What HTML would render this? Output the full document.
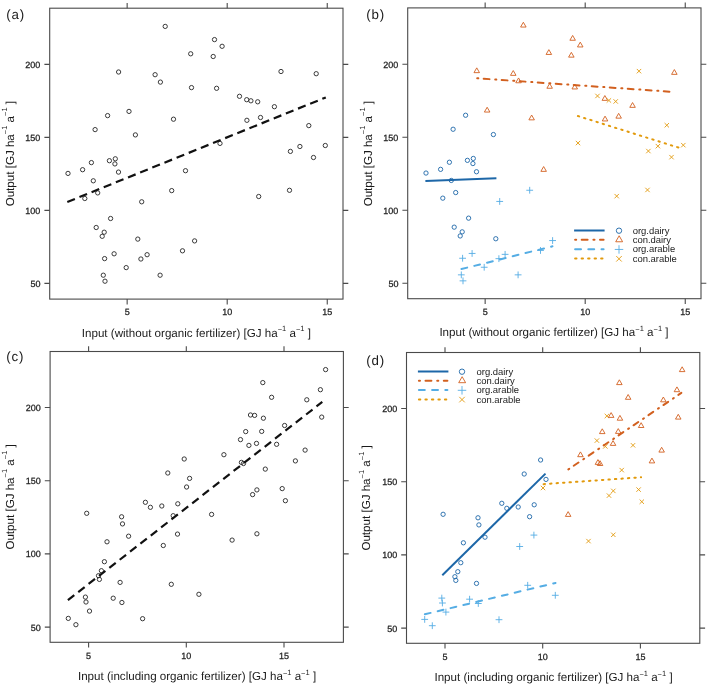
<!DOCTYPE html>
<html><head><meta charset="utf-8"><title>plot</title>
<style>
html,body{margin:0;padding:0;background:#fff;}
body{width:708px;height:695px;overflow:hidden;}
svg{display:block;will-change:transform;}
text{font-family:"Liberation Sans",sans-serif;fill:#222222;text-rendering:geometricPrecision;}
.tk{font-size:9px;fill:#222;stroke:#222;stroke-width:0.25px;}
.ti{font-size:11.6px;fill:#1a1a1a;}
.sup{font-size:7.5px;}
.pl{font-size:13.3px;letter-spacing:0.9px;fill:#1a1a1a;}
.lg{font-size:9.45px;fill:#222;}
</style></head>
<body>
<svg width="708" height="695" viewBox="0 0 708 695">
<rect width="708" height="695" fill="#fff"/>
<rect x="49.70" y="8.20" width="293.30" height="290.90" fill="none" stroke="#4a4a4a" stroke-width="1.1"/>
<path d="M127.15,8.20v-5.3M127.15,299.10v5.3M227.20,8.20v-5.3M227.20,299.10v5.3M327.25,8.20v-5.3M327.25,299.10v5.3M49.70,64.40h-5.3M343.00,64.40h5.3M49.70,137.40h-5.3M343.00,137.40h5.3M49.70,210.40h-5.3M343.00,210.40h5.3M49.70,283.40h-5.3M343.00,283.40h5.3" stroke="#4a4a4a" stroke-width="1.1" fill="none"/>
<text x="127.15" y="315.30" text-anchor="middle" class="tk">5</text>
<text x="227.20" y="315.30" text-anchor="middle" class="tk">10</text>
<text x="327.25" y="315.30" text-anchor="middle" class="tk">15</text>
<text x="40.40" y="67.80" text-anchor="end" class="tk">200</text>
<text x="40.40" y="140.80" text-anchor="end" class="tk">150</text>
<text x="40.40" y="213.80" text-anchor="end" class="tk">100</text>
<text x="40.40" y="286.80" text-anchor="end" class="tk">50</text>
<rect x="407.70" y="7.90" width="293.30" height="290.80" fill="none" stroke="#4a4a4a" stroke-width="1.1"/>
<path d="M485.15,7.90v-5.3M485.15,298.70v5.3M585.20,7.90v-5.3M585.20,298.70v5.3M685.25,7.90v-5.3M685.25,298.70v5.3M407.70,64.30h-5.3M701.00,64.30h5.3M407.70,137.30h-5.3M701.00,137.30h5.3M407.70,210.30h-5.3M701.00,210.30h5.3M407.70,283.30h-5.3M701.00,283.30h5.3" stroke="#4a4a4a" stroke-width="1.1" fill="none"/>
<text x="485.15" y="314.90" text-anchor="middle" class="tk">5</text>
<text x="585.20" y="314.90" text-anchor="middle" class="tk">10</text>
<text x="685.25" y="314.90" text-anchor="middle" class="tk">15</text>
<text x="398.40" y="67.70" text-anchor="end" class="tk">200</text>
<text x="398.40" y="140.70" text-anchor="end" class="tk">150</text>
<text x="398.40" y="213.70" text-anchor="end" class="tk">100</text>
<text x="398.40" y="286.70" text-anchor="end" class="tk">50</text>
<rect x="50.10" y="351.50" width="293.30" height="290.80" fill="none" stroke="#4a4a4a" stroke-width="1.1"/>
<path d="M88.60,351.50v-5.3M88.60,642.30v5.3M186.30,351.50v-5.3M186.30,642.30v5.3M284.00,351.50v-5.3M284.00,642.30v5.3M50.10,407.50h-5.3M343.40,407.50h5.3M50.10,480.70h-5.3M343.40,480.70h5.3M50.10,553.90h-5.3M343.40,553.90h5.3M50.10,627.10h-5.3M343.40,627.10h5.3" stroke="#4a4a4a" stroke-width="1.1" fill="none"/>
<text x="88.60" y="658.50" text-anchor="middle" class="tk">5</text>
<text x="186.30" y="658.50" text-anchor="middle" class="tk">10</text>
<text x="284.00" y="658.50" text-anchor="middle" class="tk">15</text>
<text x="40.80" y="410.90" text-anchor="end" class="tk">200</text>
<text x="40.80" y="484.10" text-anchor="end" class="tk">150</text>
<text x="40.80" y="557.30" text-anchor="end" class="tk">100</text>
<text x="40.80" y="630.50" text-anchor="end" class="tk">50</text>
<rect x="406.50" y="352.50" width="293.30" height="290.80" fill="none" stroke="#4a4a4a" stroke-width="1.1"/>
<path d="M445.00,352.50v-5.3M445.00,643.30v5.3M542.70,352.50v-5.3M542.70,643.30v5.3M640.40,352.50v-5.3M640.40,643.30v5.3M406.50,408.50h-5.3M699.80,408.50h5.3M406.50,481.70h-5.3M699.80,481.70h5.3M406.50,554.90h-5.3M699.80,554.90h5.3M406.50,628.10h-5.3M699.80,628.10h5.3" stroke="#4a4a4a" stroke-width="1.1" fill="none"/>
<text x="445.00" y="659.50" text-anchor="middle" class="tk">5</text>
<text x="542.70" y="659.50" text-anchor="middle" class="tk">10</text>
<text x="640.40" y="659.50" text-anchor="middle" class="tk">15</text>
<text x="397.20" y="411.90" text-anchor="end" class="tk">200</text>
<text x="397.20" y="485.10" text-anchor="end" class="tk">150</text>
<text x="397.20" y="558.30" text-anchor="end" class="tk">100</text>
<text x="397.20" y="631.50" text-anchor="end" class="tk">50</text>
<text x="196.35" y="336.80" text-anchor="middle" class="ti">Input (without organic fertilizer) [GJ ha<tspan class="sup" dy="-4.60">−</tspan><tspan class="sup" dy="-0.90">1</tspan><tspan dy="5.50"> a</tspan><tspan class="sup" dy="-4.60">−</tspan><tspan class="sup" dy="-0.90">1</tspan><tspan dy="5.50"> ]</tspan></text>
<text x="553.95" y="336.30" text-anchor="middle" class="ti">Input (without organic fertilizer) [GJ ha<tspan class="sup" dy="-4.60">−</tspan><tspan class="sup" dy="-0.90">1</tspan><tspan dy="5.50"> a</tspan><tspan class="sup" dy="-4.60">−</tspan><tspan class="sup" dy="-0.90">1</tspan><tspan dy="5.50"> ]</tspan></text>
<text x="197.05" y="680.40" text-anchor="middle" class="ti">Input (including organic fertilizer) [GJ ha<tspan class="sup" dy="-4.60">−</tspan><tspan class="sup" dy="-0.90">1</tspan><tspan dy="5.50"> a</tspan><tspan class="sup" dy="-4.60">−</tspan><tspan class="sup" dy="-0.90">1</tspan><tspan dy="5.50"> ]</tspan></text>
<text x="553.55" y="681.10" text-anchor="middle" class="ti">Input (including organic fertilizer) [GJ ha<tspan class="sup" dy="-4.60">−</tspan><tspan class="sup" dy="-0.90">1</tspan><tspan dy="5.50"> a</tspan><tspan class="sup" dy="-4.60">−</tspan><tspan class="sup" dy="-0.90">1</tspan><tspan dy="5.50"> ]</tspan></text>
<text transform="translate(13.50,153.65) rotate(-90)" text-anchor="middle" class="ti">Output [GJ ha<tspan class="sup" dy="-5.30">−</tspan><tspan class="sup" dy="-0.90">1</tspan><tspan dy="6.20"> a</tspan><tspan class="sup" dy="-5.30">−</tspan><tspan class="sup" dy="-0.90">1</tspan><tspan dy="6.20"> ]</tspan></text>
<text transform="translate(371.50,153.65) rotate(-90)" text-anchor="middle" class="ti">Output [GJ ha<tspan class="sup" dy="-5.30">−</tspan><tspan class="sup" dy="-0.90">1</tspan><tspan dy="6.20"> a</tspan><tspan class="sup" dy="-5.30">−</tspan><tspan class="sup" dy="-0.90">1</tspan><tspan dy="6.20"> ]</tspan></text>
<text transform="translate(13.50,496.90) rotate(-90)" text-anchor="middle" class="ti">Output [GJ ha<tspan class="sup" dy="-5.30">−</tspan><tspan class="sup" dy="-0.90">1</tspan><tspan dy="6.20"> a</tspan><tspan class="sup" dy="-5.30">−</tspan><tspan class="sup" dy="-0.90">1</tspan><tspan dy="6.20"> ]</tspan></text>
<text transform="translate(369.90,497.90) rotate(-90)" text-anchor="middle" class="ti">Output [GJ ha<tspan class="sup" dy="-5.30">−</tspan><tspan class="sup" dy="-0.90">1</tspan><tspan dy="6.20"> a</tspan><tspan class="sup" dy="-5.30">−</tspan><tspan class="sup" dy="-0.90">1</tspan><tspan dy="6.20"> ]</tspan></text>
<text x="6.2" y="19.1" class="pl">(a)</text>
<text x="366.2" y="19.1" class="pl">(b)</text>
<text x="6.2" y="361.0" class="pl">(c)</text>
<text x="366.2" y="365.0" class="pl">(d)</text>
<circle cx="165.20" cy="26.40" r="2.15" fill="none" stroke="#262626" stroke-width="0.9"/>
<circle cx="190.70" cy="53.80" r="2.15" fill="none" stroke="#262626" stroke-width="0.9"/>
<circle cx="118.60" cy="72.00" r="2.15" fill="none" stroke="#262626" stroke-width="0.9"/>
<circle cx="155.10" cy="74.70" r="2.15" fill="none" stroke="#262626" stroke-width="0.9"/>
<circle cx="160.40" cy="82.10" r="2.15" fill="none" stroke="#262626" stroke-width="0.9"/>
<circle cx="191.50" cy="87.60" r="2.15" fill="none" stroke="#262626" stroke-width="0.9"/>
<circle cx="129.00" cy="111.40" r="2.15" fill="none" stroke="#262626" stroke-width="0.9"/>
<circle cx="107.60" cy="115.60" r="2.15" fill="none" stroke="#262626" stroke-width="0.9"/>
<circle cx="173.50" cy="119.20" r="2.15" fill="none" stroke="#262626" stroke-width="0.9"/>
<circle cx="95.10" cy="129.60" r="2.15" fill="none" stroke="#262626" stroke-width="0.9"/>
<circle cx="135.40" cy="134.90" r="2.15" fill="none" stroke="#262626" stroke-width="0.9"/>
<circle cx="214.50" cy="39.60" r="2.15" fill="none" stroke="#262626" stroke-width="0.9"/>
<circle cx="222.10" cy="46.30" r="2.15" fill="none" stroke="#262626" stroke-width="0.9"/>
<circle cx="213.20" cy="56.50" r="2.15" fill="none" stroke="#262626" stroke-width="0.9"/>
<circle cx="281.00" cy="71.50" r="2.15" fill="none" stroke="#262626" stroke-width="0.9"/>
<circle cx="316.20" cy="73.70" r="2.15" fill="none" stroke="#262626" stroke-width="0.9"/>
<circle cx="216.60" cy="88.30" r="2.15" fill="none" stroke="#262626" stroke-width="0.9"/>
<circle cx="239.50" cy="96.30" r="2.15" fill="none" stroke="#262626" stroke-width="0.9"/>
<circle cx="246.70" cy="99.70" r="2.15" fill="none" stroke="#262626" stroke-width="0.9"/>
<circle cx="250.90" cy="100.80" r="2.15" fill="none" stroke="#262626" stroke-width="0.9"/>
<circle cx="257.70" cy="101.80" r="2.15" fill="none" stroke="#262626" stroke-width="0.9"/>
<circle cx="274.40" cy="106.70" r="2.15" fill="none" stroke="#262626" stroke-width="0.9"/>
<circle cx="246.90" cy="120.30" r="2.15" fill="none" stroke="#262626" stroke-width="0.9"/>
<circle cx="260.50" cy="117.50" r="2.15" fill="none" stroke="#262626" stroke-width="0.9"/>
<circle cx="308.80" cy="125.60" r="2.15" fill="none" stroke="#262626" stroke-width="0.9"/>
<circle cx="220.00" cy="143.40" r="2.15" fill="none" stroke="#262626" stroke-width="0.9"/>
<circle cx="299.90" cy="146.50" r="2.15" fill="none" stroke="#262626" stroke-width="0.9"/>
<circle cx="325.30" cy="145.50" r="2.15" fill="none" stroke="#262626" stroke-width="0.9"/>
<circle cx="68.00" cy="173.40" r="2.15" fill="none" stroke="#262626" stroke-width="0.9"/>
<circle cx="82.60" cy="169.70" r="2.15" fill="none" stroke="#262626" stroke-width="0.9"/>
<circle cx="91.40" cy="162.60" r="2.15" fill="none" stroke="#262626" stroke-width="0.9"/>
<circle cx="109.40" cy="160.70" r="2.15" fill="none" stroke="#262626" stroke-width="0.9"/>
<circle cx="115.30" cy="158.80" r="2.15" fill="none" stroke="#262626" stroke-width="0.9"/>
<circle cx="114.90" cy="163.90" r="2.15" fill="none" stroke="#262626" stroke-width="0.9"/>
<circle cx="118.50" cy="172.10" r="2.15" fill="none" stroke="#262626" stroke-width="0.9"/>
<circle cx="93.30" cy="180.80" r="2.15" fill="none" stroke="#262626" stroke-width="0.9"/>
<circle cx="97.70" cy="192.90" r="2.15" fill="none" stroke="#262626" stroke-width="0.9"/>
<circle cx="84.80" cy="198.50" r="2.15" fill="none" stroke="#262626" stroke-width="0.9"/>
<circle cx="185.50" cy="170.70" r="2.15" fill="none" stroke="#262626" stroke-width="0.9"/>
<circle cx="171.70" cy="190.60" r="2.15" fill="none" stroke="#262626" stroke-width="0.9"/>
<circle cx="141.70" cy="201.80" r="2.15" fill="none" stroke="#262626" stroke-width="0.9"/>
<circle cx="110.60" cy="218.50" r="2.15" fill="none" stroke="#262626" stroke-width="0.9"/>
<circle cx="96.20" cy="227.50" r="2.15" fill="none" stroke="#262626" stroke-width="0.9"/>
<circle cx="104.20" cy="232.20" r="2.15" fill="none" stroke="#262626" stroke-width="0.9"/>
<circle cx="102.20" cy="236.30" r="2.15" fill="none" stroke="#262626" stroke-width="0.9"/>
<circle cx="137.80" cy="239.10" r="2.15" fill="none" stroke="#262626" stroke-width="0.9"/>
<circle cx="194.60" cy="240.90" r="2.15" fill="none" stroke="#262626" stroke-width="0.9"/>
<circle cx="182.50" cy="250.80" r="2.15" fill="none" stroke="#262626" stroke-width="0.9"/>
<circle cx="114.10" cy="253.80" r="2.15" fill="none" stroke="#262626" stroke-width="0.9"/>
<circle cx="104.60" cy="258.60" r="2.15" fill="none" stroke="#262626" stroke-width="0.9"/>
<circle cx="140.90" cy="259.00" r="2.15" fill="none" stroke="#262626" stroke-width="0.9"/>
<circle cx="147.10" cy="254.70" r="2.15" fill="none" stroke="#262626" stroke-width="0.9"/>
<circle cx="126.20" cy="267.60" r="2.15" fill="none" stroke="#262626" stroke-width="0.9"/>
<circle cx="103.30" cy="275.20" r="2.15" fill="none" stroke="#262626" stroke-width="0.9"/>
<circle cx="105.00" cy="281.20" r="2.15" fill="none" stroke="#262626" stroke-width="0.9"/>
<circle cx="160.10" cy="275.20" r="2.15" fill="none" stroke="#262626" stroke-width="0.9"/>
<circle cx="290.40" cy="151.40" r="2.15" fill="none" stroke="#262626" stroke-width="0.9"/>
<circle cx="313.50" cy="157.50" r="2.15" fill="none" stroke="#262626" stroke-width="0.9"/>
<circle cx="289.50" cy="190.30" r="2.15" fill="none" stroke="#262626" stroke-width="0.9"/>
<circle cx="258.70" cy="196.50" r="2.15" fill="none" stroke="#262626" stroke-width="0.9"/>
<line x1="67.3" y1="202.0" x2="325.8" y2="97.4" stroke="#111" stroke-width="2.2" stroke-dasharray="8.2 4.9"/>
<circle cx="184.20" cy="459.00" r="2.15" fill="none" stroke="#262626" stroke-width="0.9"/>
<circle cx="167.80" cy="473.00" r="2.15" fill="none" stroke="#262626" stroke-width="0.9"/>
<circle cx="189.60" cy="478.40" r="2.15" fill="none" stroke="#262626" stroke-width="0.9"/>
<circle cx="186.60" cy="487.00" r="2.15" fill="none" stroke="#262626" stroke-width="0.9"/>
<circle cx="325.60" cy="369.60" r="2.15" fill="none" stroke="#262626" stroke-width="0.9"/>
<circle cx="262.80" cy="382.60" r="2.15" fill="none" stroke="#262626" stroke-width="0.9"/>
<circle cx="320.40" cy="389.70" r="2.15" fill="none" stroke="#262626" stroke-width="0.9"/>
<circle cx="271.60" cy="397.30" r="2.15" fill="none" stroke="#262626" stroke-width="0.9"/>
<circle cx="306.80" cy="399.80" r="2.15" fill="none" stroke="#262626" stroke-width="0.9"/>
<circle cx="250.50" cy="415.00" r="2.15" fill="none" stroke="#262626" stroke-width="0.9"/>
<circle cx="254.60" cy="415.40" r="2.15" fill="none" stroke="#262626" stroke-width="0.9"/>
<circle cx="263.40" cy="418.20" r="2.15" fill="none" stroke="#262626" stroke-width="0.9"/>
<circle cx="321.70" cy="417.10" r="2.15" fill="none" stroke="#262626" stroke-width="0.9"/>
<circle cx="284.60" cy="425.50" r="2.15" fill="none" stroke="#262626" stroke-width="0.9"/>
<circle cx="245.70" cy="431.60" r="2.15" fill="none" stroke="#262626" stroke-width="0.9"/>
<circle cx="261.70" cy="431.40" r="2.15" fill="none" stroke="#262626" stroke-width="0.9"/>
<circle cx="240.50" cy="439.60" r="2.15" fill="none" stroke="#262626" stroke-width="0.9"/>
<circle cx="248.90" cy="445.40" r="2.15" fill="none" stroke="#262626" stroke-width="0.9"/>
<circle cx="256.50" cy="443.40" r="2.15" fill="none" stroke="#262626" stroke-width="0.9"/>
<circle cx="276.60" cy="444.30" r="2.15" fill="none" stroke="#262626" stroke-width="0.9"/>
<circle cx="305.10" cy="450.10" r="2.15" fill="none" stroke="#262626" stroke-width="0.9"/>
<circle cx="223.90" cy="454.70" r="2.15" fill="none" stroke="#262626" stroke-width="0.9"/>
<circle cx="295.40" cy="460.90" r="2.15" fill="none" stroke="#262626" stroke-width="0.9"/>
<circle cx="241.40" cy="462.40" r="2.15" fill="none" stroke="#262626" stroke-width="0.9"/>
<circle cx="243.50" cy="463.50" r="2.15" fill="none" stroke="#262626" stroke-width="0.9"/>
<circle cx="265.30" cy="469.10" r="2.15" fill="none" stroke="#262626" stroke-width="0.9"/>
<circle cx="256.90" cy="489.90" r="2.15" fill="none" stroke="#262626" stroke-width="0.9"/>
<circle cx="252.60" cy="494.60" r="2.15" fill="none" stroke="#262626" stroke-width="0.9"/>
<circle cx="282.20" cy="488.60" r="2.15" fill="none" stroke="#262626" stroke-width="0.9"/>
<circle cx="285.40" cy="500.70" r="2.15" fill="none" stroke="#262626" stroke-width="0.9"/>
<circle cx="145.40" cy="502.30" r="2.15" fill="none" stroke="#262626" stroke-width="0.9"/>
<circle cx="150.40" cy="507.30" r="2.15" fill="none" stroke="#262626" stroke-width="0.9"/>
<circle cx="161.80" cy="506.00" r="2.15" fill="none" stroke="#262626" stroke-width="0.9"/>
<circle cx="177.80" cy="503.80" r="2.15" fill="none" stroke="#262626" stroke-width="0.9"/>
<circle cx="173.20" cy="515.70" r="2.15" fill="none" stroke="#262626" stroke-width="0.9"/>
<circle cx="86.70" cy="513.30" r="2.15" fill="none" stroke="#262626" stroke-width="0.9"/>
<circle cx="121.60" cy="516.80" r="2.15" fill="none" stroke="#262626" stroke-width="0.9"/>
<circle cx="122.50" cy="523.90" r="2.15" fill="none" stroke="#262626" stroke-width="0.9"/>
<circle cx="128.60" cy="536.20" r="2.15" fill="none" stroke="#262626" stroke-width="0.9"/>
<circle cx="177.50" cy="534.10" r="2.15" fill="none" stroke="#262626" stroke-width="0.9"/>
<circle cx="107.00" cy="541.80" r="2.15" fill="none" stroke="#262626" stroke-width="0.9"/>
<circle cx="163.30" cy="545.50" r="2.15" fill="none" stroke="#262626" stroke-width="0.9"/>
<circle cx="104.40" cy="561.70" r="2.15" fill="none" stroke="#262626" stroke-width="0.9"/>
<circle cx="101.40" cy="570.70" r="2.15" fill="none" stroke="#262626" stroke-width="0.9"/>
<circle cx="98.50" cy="575.70" r="2.15" fill="none" stroke="#262626" stroke-width="0.9"/>
<circle cx="99.40" cy="579.40" r="2.15" fill="none" stroke="#262626" stroke-width="0.9"/>
<circle cx="120.10" cy="582.40" r="2.15" fill="none" stroke="#262626" stroke-width="0.9"/>
<circle cx="171.30" cy="584.30" r="2.15" fill="none" stroke="#262626" stroke-width="0.9"/>
<circle cx="198.90" cy="594.30" r="2.15" fill="none" stroke="#262626" stroke-width="0.9"/>
<circle cx="85.40" cy="597.10" r="2.15" fill="none" stroke="#262626" stroke-width="0.9"/>
<circle cx="86.00" cy="602.00" r="2.15" fill="none" stroke="#262626" stroke-width="0.9"/>
<circle cx="113.20" cy="598.20" r="2.15" fill="none" stroke="#262626" stroke-width="0.9"/>
<circle cx="121.90" cy="602.50" r="2.15" fill="none" stroke="#262626" stroke-width="0.9"/>
<circle cx="89.50" cy="611.10" r="2.15" fill="none" stroke="#262626" stroke-width="0.9"/>
<circle cx="68.30" cy="618.40" r="2.15" fill="none" stroke="#262626" stroke-width="0.9"/>
<circle cx="142.60" cy="618.70" r="2.15" fill="none" stroke="#262626" stroke-width="0.9"/>
<circle cx="75.90" cy="624.70" r="2.15" fill="none" stroke="#262626" stroke-width="0.9"/>
<circle cx="211.60" cy="514.40" r="2.15" fill="none" stroke="#262626" stroke-width="0.9"/>
<circle cx="256.90" cy="533.80" r="2.15" fill="none" stroke="#262626" stroke-width="0.9"/>
<circle cx="232.10" cy="540.10" r="2.15" fill="none" stroke="#262626" stroke-width="0.9"/>
<line x1="67.9" y1="600.1" x2="322.3" y2="401.9" stroke="#111" stroke-width="2.2" stroke-dasharray="8.1 5.03"/>
<path d="M523.35,22.25L526.12,27.05L520.58,27.05Z" fill="none" stroke="#d2601f" stroke-width="0.9" stroke-linejoin="miter"/>
<path d="M548.85,49.65L551.62,54.45L546.08,54.45Z" fill="none" stroke="#d2601f" stroke-width="0.9" stroke-linejoin="miter"/>
<path d="M476.75,67.85L479.52,72.65L473.98,72.65Z" fill="none" stroke="#d2601f" stroke-width="0.9" stroke-linejoin="miter"/>
<path d="M513.25,70.55L516.02,75.35L510.48,75.35Z" fill="none" stroke="#d2601f" stroke-width="0.9" stroke-linejoin="miter"/>
<path d="M518.55,77.95L521.32,82.75L515.78,82.75Z" fill="none" stroke="#d2601f" stroke-width="0.9" stroke-linejoin="miter"/>
<path d="M549.65,83.45L552.42,88.25L546.88,88.25Z" fill="none" stroke="#d2601f" stroke-width="0.9" stroke-linejoin="miter"/>
<path d="M487.15,107.25L489.92,112.05L484.38,112.05Z" fill="none" stroke="#d2601f" stroke-width="0.9" stroke-linejoin="miter"/>
<circle cx="465.60" cy="115.25" r="2.15" fill="none" stroke="#1d67a8" stroke-width="0.9"/>
<path d="M531.65,115.05L534.42,119.85L528.88,119.85Z" fill="none" stroke="#d2601f" stroke-width="0.9" stroke-linejoin="miter"/>
<circle cx="453.10" cy="129.25" r="2.15" fill="none" stroke="#1d67a8" stroke-width="0.9"/>
<circle cx="493.40" cy="134.55" r="2.15" fill="none" stroke="#1d67a8" stroke-width="0.9"/>
<path d="M572.65,35.45L575.42,40.25L569.88,40.25Z" fill="none" stroke="#d2601f" stroke-width="0.9" stroke-linejoin="miter"/>
<path d="M580.25,42.15L583.02,46.95L577.48,46.95Z" fill="none" stroke="#d2601f" stroke-width="0.9" stroke-linejoin="miter"/>
<path d="M571.35,52.35L574.12,57.15L568.58,57.15Z" fill="none" stroke="#d2601f" stroke-width="0.9" stroke-linejoin="miter"/>
<path d="M636.80,68.95L641.20,73.35M636.80,73.35L641.20,68.95" stroke="#e29a0c" stroke-width="0.9" fill="none"/>
<path d="M674.35,69.55L677.12,74.35L671.58,74.35Z" fill="none" stroke="#d2601f" stroke-width="0.9" stroke-linejoin="miter"/>
<path d="M574.75,84.15L577.52,88.95L571.98,88.95Z" fill="none" stroke="#d2601f" stroke-width="0.9" stroke-linejoin="miter"/>
<path d="M595.30,93.75L599.70,98.15M595.30,98.15L599.70,93.75" stroke="#e29a0c" stroke-width="0.9" fill="none"/>
<path d="M604.85,95.55L607.62,100.35L602.08,100.35Z" fill="none" stroke="#d2601f" stroke-width="0.9" stroke-linejoin="miter"/>
<path d="M606.70,98.25L611.10,102.65M606.70,102.65L611.10,98.25" stroke="#e29a0c" stroke-width="0.9" fill="none"/>
<path d="M613.50,99.25L617.90,103.65M613.50,103.65L617.90,99.25" stroke="#e29a0c" stroke-width="0.9" fill="none"/>
<path d="M632.55,102.55L635.32,107.35L629.78,107.35Z" fill="none" stroke="#d2601f" stroke-width="0.9" stroke-linejoin="miter"/>
<path d="M605.05,116.15L607.82,120.95L602.28,120.95Z" fill="none" stroke="#d2601f" stroke-width="0.9" stroke-linejoin="miter"/>
<path d="M618.65,113.35L621.42,118.15L615.88,118.15Z" fill="none" stroke="#d2601f" stroke-width="0.9" stroke-linejoin="miter"/>
<path d="M664.60,123.05L669.00,127.45M664.60,127.45L669.00,123.05" stroke="#e29a0c" stroke-width="0.9" fill="none"/>
<path d="M575.80,140.85L580.20,145.25M575.80,145.25L580.20,140.85" stroke="#e29a0c" stroke-width="0.9" fill="none"/>
<path d="M655.70,143.95L660.10,148.35M655.70,148.35L660.10,143.95" stroke="#e29a0c" stroke-width="0.9" fill="none"/>
<path d="M681.10,142.95L685.50,147.35M681.10,147.35L685.50,142.95" stroke="#e29a0c" stroke-width="0.9" fill="none"/>
<circle cx="426.00" cy="173.05" r="2.15" fill="none" stroke="#1d67a8" stroke-width="0.9"/>
<circle cx="440.60" cy="169.35" r="2.15" fill="none" stroke="#1d67a8" stroke-width="0.9"/>
<circle cx="449.40" cy="162.25" r="2.15" fill="none" stroke="#1d67a8" stroke-width="0.9"/>
<circle cx="467.40" cy="160.35" r="2.15" fill="none" stroke="#1d67a8" stroke-width="0.9"/>
<circle cx="473.30" cy="158.45" r="2.15" fill="none" stroke="#1d67a8" stroke-width="0.9"/>
<circle cx="472.90" cy="163.55" r="2.15" fill="none" stroke="#1d67a8" stroke-width="0.9"/>
<circle cx="476.50" cy="171.75" r="2.15" fill="none" stroke="#1d67a8" stroke-width="0.9"/>
<circle cx="451.30" cy="180.45" r="2.15" fill="none" stroke="#1d67a8" stroke-width="0.9"/>
<circle cx="455.70" cy="192.55" r="2.15" fill="none" stroke="#1d67a8" stroke-width="0.9"/>
<circle cx="442.80" cy="198.15" r="2.15" fill="none" stroke="#1d67a8" stroke-width="0.9"/>
<path d="M543.65,166.55L546.42,171.35L540.88,171.35Z" fill="none" stroke="#d2601f" stroke-width="0.9" stroke-linejoin="miter"/>
<path d="M526.30,190.25H533.10M529.70,186.85V193.65" stroke="#55ade4" stroke-width="0.9" fill="none"/>
<path d="M496.30,201.45H503.10M499.70,198.05V204.85" stroke="#55ade4" stroke-width="0.9" fill="none"/>
<circle cx="468.60" cy="218.15" r="2.15" fill="none" stroke="#1d67a8" stroke-width="0.9"/>
<circle cx="454.20" cy="227.15" r="2.15" fill="none" stroke="#1d67a8" stroke-width="0.9"/>
<circle cx="462.20" cy="231.85" r="2.15" fill="none" stroke="#1d67a8" stroke-width="0.9"/>
<circle cx="460.20" cy="235.95" r="2.15" fill="none" stroke="#1d67a8" stroke-width="0.9"/>
<circle cx="495.80" cy="238.75" r="2.15" fill="none" stroke="#1d67a8" stroke-width="0.9"/>
<path d="M549.20,240.55H556.00M552.60,237.15V243.95" stroke="#55ade4" stroke-width="0.9" fill="none"/>
<path d="M537.10,250.45H543.90M540.50,247.05V253.85" stroke="#55ade4" stroke-width="0.9" fill="none"/>
<path d="M468.70,253.45H475.50M472.10,250.05V256.85" stroke="#55ade4" stroke-width="0.9" fill="none"/>
<path d="M459.20,258.25H466.00M462.60,254.85V261.65" stroke="#55ade4" stroke-width="0.9" fill="none"/>
<path d="M495.50,258.65H502.30M498.90,255.25V262.05" stroke="#55ade4" stroke-width="0.9" fill="none"/>
<path d="M501.70,254.35H508.50M505.10,250.95V257.75" stroke="#55ade4" stroke-width="0.9" fill="none"/>
<path d="M480.80,267.25H487.60M484.20,263.85V270.65" stroke="#55ade4" stroke-width="0.9" fill="none"/>
<path d="M457.90,274.85H464.70M461.30,271.45V278.25" stroke="#55ade4" stroke-width="0.9" fill="none"/>
<path d="M459.60,280.85H466.40M463.00,277.45V284.25" stroke="#55ade4" stroke-width="0.9" fill="none"/>
<path d="M514.70,274.85H521.50M518.10,271.45V278.25" stroke="#55ade4" stroke-width="0.9" fill="none"/>
<path d="M646.20,148.85L650.60,153.25M646.20,153.25L650.60,148.85" stroke="#e29a0c" stroke-width="0.9" fill="none"/>
<path d="M669.30,154.95L673.70,159.35M669.30,159.35L673.70,154.95" stroke="#e29a0c" stroke-width="0.9" fill="none"/>
<path d="M645.30,187.75L649.70,192.15M645.30,192.15L649.70,187.75" stroke="#e29a0c" stroke-width="0.9" fill="none"/>
<path d="M614.50,193.95L618.90,198.35M614.50,198.35L618.90,193.95" stroke="#e29a0c" stroke-width="0.9" fill="none"/>
<line x1="425.40" y1="181.10" x2="496.40" y2="178.20" stroke="#1d67a8" stroke-width="2.0"/>
<line x1="477.20" y1="78.27" x2="669.40" y2="91.63" stroke="#d2601f" stroke-width="2.0" stroke-dasharray="1.1 5.4 5.8 5.75" stroke-linecap="round"/>
<line x1="461.47" y1="269.06" x2="552.43" y2="246.34" stroke="#55ade4" stroke-width="2.0" stroke-dasharray="5.9 7.3" stroke-linecap="round"/>
<line x1="577.85" y1="116.00" x2="678.85" y2="147.70" stroke="#e29a0c" stroke-width="2.0" stroke-dasharray="1.4 5.1" stroke-linecap="round"/>
<line x1="574.10" y1="230.50" x2="604.60" y2="230.50" stroke="#1d67a8" stroke-width="2.0"/>
<circle cx="619.00" cy="230.70" r="2.69" fill="none" stroke="#1d67a8" stroke-width="0.9"/>
<text x="632.70" y="233.60" class="lg">org.dairy</text>
<line x1="575.10" y1="239.87" x2="603.60" y2="239.87" stroke="#d2601f" stroke-width="2.0" stroke-dasharray="1.1 5.5 5.9 5.8" stroke-linecap="round"/>
<path d="M619.15,235.77L622.61,241.77L615.69,241.77Z" fill="none" stroke="#d2601f" stroke-width="0.9" stroke-linejoin="miter"/>
<text x="632.70" y="242.97" class="lg">con.dairy</text>
<line x1="575.10" y1="249.24" x2="603.60" y2="249.24" stroke="#55ade4" stroke-width="2.0" stroke-dasharray="5.9 7.3" stroke-linecap="round"/>
<path d="M614.75,249.44H623.25M619.00,245.19V253.69" stroke="#55ade4" stroke-width="0.9" fill="none"/>
<text x="632.70" y="252.34" class="lg">org.arable</text>
<line x1="575.10" y1="258.61" x2="603.60" y2="258.61" stroke="#e29a0c" stroke-width="2.0" stroke-dasharray="1.4 5.1" stroke-linecap="round"/>
<path d="M616.25,256.06L621.75,261.56M616.25,261.56L621.75,256.06" stroke="#e29a0c" stroke-width="0.9" fill="none"/>
<text x="632.70" y="261.71" class="lg">con.arable</text>
<circle cx="540.60" cy="460.00" r="2.15" fill="none" stroke="#1d67a8" stroke-width="0.9"/>
<circle cx="524.20" cy="474.00" r="2.15" fill="none" stroke="#1d67a8" stroke-width="0.9"/>
<circle cx="546.00" cy="479.40" r="2.15" fill="none" stroke="#1d67a8" stroke-width="0.9"/>
<path d="M540.80,485.80L545.20,490.20M540.80,490.20L545.20,485.80" stroke="#e29a0c" stroke-width="0.9" fill="none"/>
<path d="M682.15,366.80L684.92,371.60L679.38,371.60Z" fill="none" stroke="#d2601f" stroke-width="0.9" stroke-linejoin="miter"/>
<path d="M619.35,379.80L622.12,384.60L616.58,384.60Z" fill="none" stroke="#d2601f" stroke-width="0.9" stroke-linejoin="miter"/>
<path d="M676.95,386.90L679.72,391.70L674.18,391.70Z" fill="none" stroke="#d2601f" stroke-width="0.9" stroke-linejoin="miter"/>
<path d="M628.15,394.50L630.92,399.30L625.38,399.30Z" fill="none" stroke="#d2601f" stroke-width="0.9" stroke-linejoin="miter"/>
<path d="M663.35,397.00L666.12,401.80L660.58,401.80Z" fill="none" stroke="#d2601f" stroke-width="0.9" stroke-linejoin="miter"/>
<path d="M604.70,413.80L609.10,418.20M604.70,418.20L609.10,413.80" stroke="#e29a0c" stroke-width="0.9" fill="none"/>
<path d="M611.15,412.60L613.92,417.40L608.38,417.40Z" fill="none" stroke="#d2601f" stroke-width="0.9" stroke-linejoin="miter"/>
<path d="M619.95,415.40L622.72,420.20L617.18,420.20Z" fill="none" stroke="#d2601f" stroke-width="0.9" stroke-linejoin="miter"/>
<path d="M678.25,414.30L681.02,419.10L675.48,419.10Z" fill="none" stroke="#d2601f" stroke-width="0.9" stroke-linejoin="miter"/>
<path d="M641.15,422.70L643.92,427.50L638.38,427.50Z" fill="none" stroke="#d2601f" stroke-width="0.9" stroke-linejoin="miter"/>
<path d="M602.25,428.80L605.02,433.60L599.48,433.60Z" fill="none" stroke="#d2601f" stroke-width="0.9" stroke-linejoin="miter"/>
<path d="M618.25,428.60L621.02,433.40L615.48,433.40Z" fill="none" stroke="#d2601f" stroke-width="0.9" stroke-linejoin="miter"/>
<path d="M594.70,438.40L599.10,442.80M594.70,442.80L599.10,438.40" stroke="#e29a0c" stroke-width="0.9" fill="none"/>
<path d="M603.10,444.20L607.50,448.60M603.10,448.60L607.50,444.20" stroke="#e29a0c" stroke-width="0.9" fill="none"/>
<path d="M613.05,440.60L615.82,445.40L610.28,445.40Z" fill="none" stroke="#d2601f" stroke-width="0.9" stroke-linejoin="miter"/>
<path d="M630.80,443.10L635.20,447.50M630.80,447.50L635.20,443.10" stroke="#e29a0c" stroke-width="0.9" fill="none"/>
<path d="M661.65,447.30L664.42,452.10L658.88,452.10Z" fill="none" stroke="#d2601f" stroke-width="0.9" stroke-linejoin="miter"/>
<path d="M580.45,451.90L583.22,456.70L577.68,456.70Z" fill="none" stroke="#d2601f" stroke-width="0.9" stroke-linejoin="miter"/>
<path d="M651.95,458.10L654.72,462.90L649.18,462.90Z" fill="none" stroke="#d2601f" stroke-width="0.9" stroke-linejoin="miter"/>
<path d="M597.95,459.60L600.72,464.40L595.18,464.40Z" fill="none" stroke="#d2601f" stroke-width="0.9" stroke-linejoin="miter"/>
<path d="M600.05,460.70L602.82,465.50L597.28,465.50Z" fill="none" stroke="#d2601f" stroke-width="0.9" stroke-linejoin="miter"/>
<path d="M619.50,467.90L623.90,472.30M619.50,472.30L623.90,467.90" stroke="#e29a0c" stroke-width="0.9" fill="none"/>
<path d="M611.10,488.70L615.50,493.10M611.10,493.10L615.50,488.70" stroke="#e29a0c" stroke-width="0.9" fill="none"/>
<path d="M606.80,493.40L611.20,497.80M606.80,497.80L611.20,493.40" stroke="#e29a0c" stroke-width="0.9" fill="none"/>
<path d="M636.40,487.40L640.80,491.80M636.40,491.80L640.80,487.40" stroke="#e29a0c" stroke-width="0.9" fill="none"/>
<path d="M639.60,499.50L644.00,503.90M639.60,503.90L644.00,499.50" stroke="#e29a0c" stroke-width="0.9" fill="none"/>
<circle cx="501.80" cy="503.30" r="2.15" fill="none" stroke="#1d67a8" stroke-width="0.9"/>
<circle cx="506.80" cy="508.30" r="2.15" fill="none" stroke="#1d67a8" stroke-width="0.9"/>
<circle cx="518.20" cy="507.00" r="2.15" fill="none" stroke="#1d67a8" stroke-width="0.9"/>
<circle cx="534.20" cy="504.80" r="2.15" fill="none" stroke="#1d67a8" stroke-width="0.9"/>
<circle cx="529.60" cy="516.70" r="2.15" fill="none" stroke="#1d67a8" stroke-width="0.9"/>
<circle cx="443.10" cy="514.30" r="2.15" fill="none" stroke="#1d67a8" stroke-width="0.9"/>
<circle cx="478.00" cy="517.80" r="2.15" fill="none" stroke="#1d67a8" stroke-width="0.9"/>
<circle cx="478.90" cy="524.90" r="2.15" fill="none" stroke="#1d67a8" stroke-width="0.9"/>
<circle cx="485.00" cy="537.20" r="2.15" fill="none" stroke="#1d67a8" stroke-width="0.9"/>
<path d="M530.50,535.10H537.30M533.90,531.70V538.50" stroke="#55ade4" stroke-width="0.9" fill="none"/>
<circle cx="463.40" cy="542.80" r="2.15" fill="none" stroke="#1d67a8" stroke-width="0.9"/>
<path d="M516.30,546.50H523.10M519.70,543.10V549.90" stroke="#55ade4" stroke-width="0.9" fill="none"/>
<circle cx="460.80" cy="562.70" r="2.15" fill="none" stroke="#1d67a8" stroke-width="0.9"/>
<circle cx="457.80" cy="571.70" r="2.15" fill="none" stroke="#1d67a8" stroke-width="0.9"/>
<circle cx="454.90" cy="576.70" r="2.15" fill="none" stroke="#1d67a8" stroke-width="0.9"/>
<circle cx="455.80" cy="580.40" r="2.15" fill="none" stroke="#1d67a8" stroke-width="0.9"/>
<circle cx="476.50" cy="583.40" r="2.15" fill="none" stroke="#1d67a8" stroke-width="0.9"/>
<path d="M524.30,585.30H531.10M527.70,581.90V588.70" stroke="#55ade4" stroke-width="0.9" fill="none"/>
<path d="M551.90,595.30H558.70M555.30,591.90V598.70" stroke="#55ade4" stroke-width="0.9" fill="none"/>
<path d="M438.40,598.10H445.20M441.80,594.70V601.50" stroke="#55ade4" stroke-width="0.9" fill="none"/>
<path d="M439.00,603.00H445.80M442.40,599.60V606.40" stroke="#55ade4" stroke-width="0.9" fill="none"/>
<path d="M466.20,599.20H473.00M469.60,595.80V602.60" stroke="#55ade4" stroke-width="0.9" fill="none"/>
<path d="M474.90,603.50H481.70M478.30,600.10V606.90" stroke="#55ade4" stroke-width="0.9" fill="none"/>
<path d="M442.50,612.10H449.30M445.90,608.70V615.50" stroke="#55ade4" stroke-width="0.9" fill="none"/>
<path d="M421.30,619.40H428.10M424.70,616.00V622.80" stroke="#55ade4" stroke-width="0.9" fill="none"/>
<path d="M495.60,619.70H502.40M499.00,616.30V623.10" stroke="#55ade4" stroke-width="0.9" fill="none"/>
<path d="M428.90,625.70H435.70M432.30,622.30V629.10" stroke="#55ade4" stroke-width="0.9" fill="none"/>
<path d="M568.15,511.60L570.92,516.40L565.38,516.40Z" fill="none" stroke="#d2601f" stroke-width="0.9" stroke-linejoin="miter"/>
<path d="M611.10,532.60L615.50,537.00M611.10,537.00L615.50,532.60" stroke="#e29a0c" stroke-width="0.9" fill="none"/>
<path d="M586.30,538.90L590.70,543.30M586.30,543.30L590.70,538.90" stroke="#e29a0c" stroke-width="0.9" fill="none"/>
<line x1="442.30" y1="575.20" x2="545.50" y2="473.60" stroke="#1d67a8" stroke-width="2.0"/>
<line x1="568.33" y1="469.44" x2="681.37" y2="392.86" stroke="#d2601f" stroke-width="2.0" stroke-dasharray="1.1 5.4 5.8 5.75" stroke-linecap="round"/>
<line x1="424.87" y1="614.27" x2="555.53" y2="582.93" stroke="#55ade4" stroke-width="2.0" stroke-dasharray="5.9 7.3" stroke-linecap="round"/>
<line x1="543.60" y1="484.13" x2="641.10" y2="477.27" stroke="#e29a0c" stroke-width="2.0" stroke-dasharray="1.4 5.1" stroke-linecap="round"/>
<line x1="417.90" y1="371.50" x2="448.40" y2="371.50" stroke="#1d67a8" stroke-width="2.0"/>
<circle cx="462.00" cy="371.70" r="2.69" fill="none" stroke="#1d67a8" stroke-width="0.9"/>
<text x="476.50" y="374.60" class="lg">org.dairy</text>
<line x1="418.90" y1="380.80" x2="447.40" y2="380.80" stroke="#d2601f" stroke-width="2.0" stroke-dasharray="1.1 5.5 5.9 5.8" stroke-linecap="round"/>
<path d="M462.15,376.70L465.61,382.70L458.69,382.70Z" fill="none" stroke="#d2601f" stroke-width="0.9" stroke-linejoin="miter"/>
<text x="476.50" y="383.90" class="lg">con.dairy</text>
<line x1="418.90" y1="390.10" x2="447.40" y2="390.10" stroke="#55ade4" stroke-width="2.0" stroke-dasharray="5.9 7.3" stroke-linecap="round"/>
<path d="M457.75,390.30H466.25M462.00,386.05V394.55" stroke="#55ade4" stroke-width="0.9" fill="none"/>
<text x="476.50" y="393.20" class="lg">org.arable</text>
<line x1="418.90" y1="399.40" x2="447.40" y2="399.40" stroke="#e29a0c" stroke-width="2.0" stroke-dasharray="1.4 5.1" stroke-linecap="round"/>
<path d="M459.25,396.85L464.75,402.35M459.25,402.35L464.75,396.85" stroke="#e29a0c" stroke-width="0.9" fill="none"/>
<text x="476.50" y="402.50" class="lg">con.arable</text>
</svg>
</body></html>
